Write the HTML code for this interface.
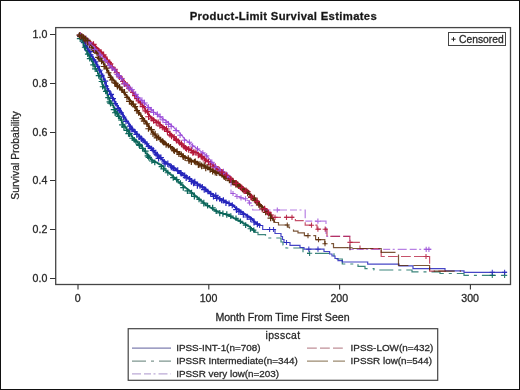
<!DOCTYPE html>
<html><head><meta charset="utf-8"><style>
html,body{margin:0;padding:0;background:#fff;}
#c{position:relative;width:520px;height:390px;overflow:hidden;}
svg{display:block;}
</style></head><body><div id="c">
<svg width="520" height="390" viewBox="0 0 520 390">
<rect x="0" y="0" width="520" height="390" fill="#fff"/>
<rect x="0.5" y="0.5" width="519" height="389" fill="none" stroke="#111" stroke-width="1"/>
<text x="283.4" y="20" text-anchor="middle" font-size="11.3" letter-spacing="0.32" font-weight="bold" font-family="Liberation Sans, Arial, sans-serif" stroke="#333" stroke-width="0.3" fill="#111">Product-Limit Survival Estimates</text>
<rect x="55.7" y="27.6" width="454.8" height="256.9" fill="none" stroke="#454545" stroke-width="1.3"/>
<rect x="448.5" y="32.5" width="57" height="13" fill="none" stroke="#444" stroke-width="1"/>
<path d="M451.4,39.2h4.2M453.5,37.1v4.2" stroke="#222" stroke-width="1"/>
<text x="459" y="42.6" font-size="10.3" font-family="Liberation Sans, Arial, sans-serif" stroke="#333" stroke-width="0.3" fill="#222">Censored</text>
<line x1="50" y1="34.5" x2="55.5" y2="34.5" stroke="#333" stroke-width="1"/>
<text x="47.3" y="38.3" text-anchor="end" font-size="10.6" font-family="Liberation Sans, Arial, sans-serif" stroke="#333" stroke-width="0.3" fill="#222">1.0</text>
<line x1="50" y1="83.5" x2="55.5" y2="83.5" stroke="#333" stroke-width="1"/>
<text x="47.3" y="87.3" text-anchor="end" font-size="10.6" font-family="Liberation Sans, Arial, sans-serif" stroke="#333" stroke-width="0.3" fill="#222">0.8</text>
<line x1="50" y1="132.5" x2="55.5" y2="132.5" stroke="#333" stroke-width="1"/>
<text x="47.3" y="136.3" text-anchor="end" font-size="10.6" font-family="Liberation Sans, Arial, sans-serif" stroke="#333" stroke-width="0.3" fill="#222">0.6</text>
<line x1="50" y1="180.5" x2="55.5" y2="180.5" stroke="#333" stroke-width="1"/>
<text x="47.3" y="184.3" text-anchor="end" font-size="10.6" font-family="Liberation Sans, Arial, sans-serif" stroke="#333" stroke-width="0.3" fill="#222">0.4</text>
<line x1="50" y1="229.5" x2="55.5" y2="229.5" stroke="#333" stroke-width="1"/>
<text x="47.3" y="233.3" text-anchor="end" font-size="10.6" font-family="Liberation Sans, Arial, sans-serif" stroke="#333" stroke-width="0.3" fill="#222">0.2</text>
<line x1="50" y1="278.5" x2="55.5" y2="278.5" stroke="#333" stroke-width="1"/>
<text x="47.3" y="282.3" text-anchor="end" font-size="10.6" font-family="Liberation Sans, Arial, sans-serif" stroke="#333" stroke-width="0.3" fill="#222">0.0</text>
<line x1="78.0" y1="284.5" x2="78.0" y2="289.5" stroke="#333" stroke-width="1.1"/>
<text x="77.7" y="302.4" text-anchor="middle" font-size="10.6" font-family="Liberation Sans, Arial, sans-serif" stroke="#333" stroke-width="0.3" fill="#222">0</text>
<line x1="208.8" y1="284.5" x2="208.8" y2="289.5" stroke="#333" stroke-width="1.1"/>
<text x="208.5" y="302.4" text-anchor="middle" font-size="10.6" font-family="Liberation Sans, Arial, sans-serif" stroke="#333" stroke-width="0.3" fill="#222">100</text>
<line x1="339.6" y1="284.5" x2="339.6" y2="289.5" stroke="#333" stroke-width="1.1"/>
<text x="339.3" y="302.4" text-anchor="middle" font-size="10.6" font-family="Liberation Sans, Arial, sans-serif" stroke="#333" stroke-width="0.3" fill="#222">200</text>
<line x1="470.4" y1="284.5" x2="470.4" y2="289.5" stroke="#333" stroke-width="1.1"/>
<text x="470.1" y="302.4" text-anchor="middle" font-size="10.6" font-family="Liberation Sans, Arial, sans-serif" stroke="#333" stroke-width="0.3" fill="#222">300</text>
<text transform="translate(18.9,155.5) rotate(-90)" text-anchor="middle" font-size="10.4" font-family="Liberation Sans, Arial, sans-serif" stroke="#333" stroke-width="0.3" fill="#222">Survival Probability</text>
<text x="282.5" y="321" text-anchor="middle" font-size="10.6" font-family="Liberation Sans, Arial, sans-serif" stroke="#333" stroke-width="0.3" fill="#222">Month From Time First Seen</text>
<path d="M78.50,34.40H79.70V36.10H80.90V37.81H82.10V39.51H83.30V41.22H84.50V43.50H85.70V45.90H86.90V48.30H88.10V50.54H89.30V52.77H90.50V55.00H91.70V56.74H92.90V58.47H94.10V60.21H95.30V62.53H96.50V64.96H97.70V67.39H98.90V69.67H100.10V71.89H101.30V74.11H102.50V76.65H103.70V79.67H104.90V82.68H106.10V85.69H107.30V88.70H108.50V91.20H109.70V93.60H110.90V95.83H112.10V97.83H113.30V99.83H114.50V101.83H115.70V103.83H116.90V105.83H118.10V107.83H119.30V109.83H120.50V111.83H121.70V113.83H122.90V115.83H124.10V117.83H125.30V119.58H126.50V121.29H127.70V123.01H128.90V124.73H130.10V126.45H131.30V128.17H132.50V129.80H133.70V131.00H134.90V132.20H136.10V133.40H137.30V134.60H138.50V135.80H139.70V137.00H140.90V138.20H142.10V139.44H143.30V140.73H144.50V142.02H145.70V143.31H146.90V144.60H148.10V145.89H149.30V147.17H150.50V148.46H151.70V149.70H152.90V150.90H154.10V152.10H155.30V153.30H156.50V154.50H157.70V155.70H158.90V156.86H160.10V158.01H161.30V159.16H162.50V160.31H163.70V161.46H164.90V162.60H166.10V163.36H167.30V164.07H168.50V164.79H169.70V165.51H170.90V166.22H172.10V166.94H173.30V167.78H174.50V168.75H175.70V169.72H176.90V170.68H178.10V171.65H179.30V172.61H180.50V173.56H181.70V174.27H182.90V174.98H184.10V175.69H185.30V176.40H186.50V177.11H187.70V177.82H188.90V178.60H190.10V179.41H191.30V180.22H192.50V181.02H193.70V181.83H194.90V182.63H196.10V183.36H197.30V184.07H198.50V184.79H199.70V185.51H200.90V186.22H202.10V186.94H203.30V187.78H204.50V188.75H205.70V189.72H206.90V190.68H208.10V191.65H209.30V192.61H210.50V193.56H211.70V194.27H212.90V194.98H214.10V195.69H215.30V196.40H216.50V197.11H217.70V197.82H218.90V198.46H220.10V199.08H221.30V199.69H222.50V200.31H223.70V200.92H224.90V201.54H226.10V202.15H227.30V202.73H228.50V203.31H229.70V203.89H230.90V204.47H232.10V205.09H233.30V206.14H234.50V207.19H235.70V208.24H236.90V209.12H238.10V209.94H239.30V210.77H240.50V211.59H241.70V212.42H242.90V213.24H244.10V214.06H245.30V214.84H246.50V215.61H247.70V216.38H248.90V217.15H250.10V217.92H251.30V218.84H252.50V220.19H253.70V221.54H254.90V222.89H256.10V223.55H257.30V224.15H258.50V224.75H259.70V225.35H260.00V225.50" fill="none" stroke="#2626bc" stroke-width="1.6"/>
<path d="M77.13,36.33h6.24M80.25,33.21v6.24M79.41,39.02h5.29M82.05,36.38v5.29M80.81,42.55h5.31M83.46,39.90v5.31M82.83,46.63h5.40M85.53,43.93v5.40M84.47,50.32h6.12M87.53,47.25v6.12M86.69,51.60h6.57M89.97,48.32v6.57M87.77,54.89h5.69M90.61,52.05v5.69M90.10,59.78h6.22M93.21,56.67v6.22M93.00,61.95h5.30M95.64,59.30v5.30M94.67,66.32h5.70M97.52,63.47v5.70M96.18,70.23h6.47M99.42,66.99v6.47M98.48,75.34h6.04M101.50,72.32v6.04M101.43,81.09h6.77M104.81,77.71v6.77M103.22,86.24h5.44M105.94,83.52v5.44M104.28,90.91h6.42M107.49,87.70v6.42M107.71,94.40h6.31M110.87,91.24v6.31M109.41,98.51h6.54M112.68,95.23v6.54M112.61,103.58h5.30M115.26,100.94v5.30M114.63,108.41h6.52M117.88,105.15v6.52M116.70,110.56h5.24M119.32,107.95v5.24M118.41,112.54h5.29M121.06,109.89v5.29M120.57,117.01h5.83M123.48,114.09v5.83M122.99,121.33h6.08M126.03,118.29v6.08M126.88,126.18h5.65M129.70,123.36v5.65M127.67,129.07h6.73M131.04,125.71v6.73M129.61,129.45h5.57M132.39,126.66v5.57M132.45,131.61h5.21M135.05,129.01v5.21M133.37,134.38h6.72M136.73,131.02v6.72M136.16,136.88h6.28M139.30,133.74v6.28M138.01,138.78h6.60M141.31,135.48v6.60M140.44,140.44h5.37M143.12,137.76v5.37M142.18,142.03h5.53M144.95,139.27v5.53M144.36,143.74h5.20M146.96,141.14v5.20M145.62,146.28h5.24M148.24,143.66v5.24M148.78,148.51h5.60M151.58,145.71v5.60M149.84,150.33h6.56M153.12,147.05v6.56M153.38,154.06h5.34M156.05,151.39v5.34M154.16,155.03h6.53M157.42,151.77v6.53M155.58,158.39h6.05M158.60,155.36v6.05M157.91,157.52h6.04M160.93,154.50v6.04M161.34,161.91h5.62M164.15,159.10v5.62M162.06,163.74h6.05M165.09,160.71v6.05M164.56,163.80h6.50M167.81,160.55v6.50M168.07,166.98h6.51M171.32,163.72v6.51M170.00,167.80h5.77M172.88,164.91v5.77M171.23,168.34h5.61M174.04,165.53v5.61M174.36,170.68h6.70M177.71,167.33v6.70M177.72,172.71h5.55M180.49,169.93v5.55M178.05,173.43h6.20M181.15,170.33v6.20M181.59,175.72h6.24M184.71,172.59v6.24M182.84,177.68h6.66M186.17,174.35v6.66M186.86,178.78h5.49M189.60,176.04v5.49M188.14,181.30h6.75M191.52,177.92v6.75M190.39,182.99h6.36M193.57,179.81v6.36M191.50,182.00h6.65M194.82,178.68v6.65M193.99,185.27h6.77M197.38,181.88v6.77M197.28,185.93h5.41M199.99,183.22v5.41M199.25,187.04h6.04M202.27,184.02v6.04M200.97,189.57h6.52M204.23,186.31v6.52M202.88,189.43h5.58M205.67,186.64v5.58M205.20,191.55h5.41M207.90,188.84v5.41M207.64,193.69h6.13M210.71,190.63v6.13M210.47,196.47h6.00M213.47,193.47v6.00M212.80,195.40h5.90M215.76,192.45v5.90M213.95,198.41h5.48M216.68,195.67v5.48M216.90,198.89h5.72M219.76,196.03v5.72M218.96,200.57h5.37M221.65,197.88v5.37M220.18,200.37h6.44M223.40,197.15v6.44M222.62,202.71h6.66M225.95,199.38v6.66M226.01,203.50h6.02M229.02,200.49v6.02M229.26,205.36h5.96M232.24,202.37v5.96M233.13,209.62h6.71M236.48,206.26v6.71M235.68,211.63h6.54M238.95,208.35v6.54M238.13,212.00h5.32M240.79,209.35v5.32M240.12,214.41h6.45M243.35,211.18v6.45M244.15,216.98h6.26M247.28,213.85v6.26M247.98,219.22h5.55M250.76,216.44v5.55M250.60,221.99h6.78M253.99,218.60v6.78M254.35,224.24h6.02M257.36,221.23v6.02" fill="none" stroke="#2626bc" stroke-width="1.2"/>
<path d="M78.50,34.40H79.70V35.09H80.90V35.79H82.10V36.48H83.30V37.21H84.50V38.05H85.70V38.89H86.90V39.73H88.10V40.58H89.30V41.54H90.50V42.50H91.70V43.46H92.90V44.42H94.10V45.49H95.30V46.57H96.50V47.65H97.70V48.73H98.90V50.01H100.10V51.36H101.30V52.71H102.50V54.13H103.70V55.63H104.90V57.13H106.10V58.65H107.30V60.45H108.50V62.25H109.70V64.05H110.90V65.58H112.10V67.02H113.30V68.46H114.50V69.90H115.70V71.34H116.90V72.78H118.10V74.22H119.30V75.66H120.50V77.13H121.70V78.63H122.90V80.13H124.10V81.63H125.30V83.13H126.50V84.63H127.70V86.13H128.90V87.72H130.10V89.35H131.30V90.98H132.50V92.61H133.70V94.24H134.90V95.86H136.10V97.49H137.30V99.12H138.50V100.75H139.70V102.38H140.90V104.01H142.10V105.64H143.30V107.37H144.50V109.09H145.70V110.82H146.90V112.54H148.10V114.27H149.30V115.99H150.50V117.37H151.70V118.27H152.90V119.17H154.10V120.07H155.30V120.97H156.50V121.87H157.70V122.77H158.90V123.67H160.10V124.65H161.30V125.72H162.50V126.80H163.70V127.87H164.90V128.95H166.10V130.02H167.30V131.20H168.50V132.40H169.70V133.60H170.90V134.80H172.10V136.00H173.30V137.20H174.50V138.40H175.70V139.60H176.90V140.80H178.10V141.99H179.30V143.14H180.50V144.25H181.70V144.90H182.90V145.55H184.10V146.20H185.30V146.85H186.50V147.50H187.70V148.31H188.90V149.11H190.10V149.92H191.30V150.73H192.50V151.39H193.70V151.85H194.90V152.31H196.10V152.77H197.30V153.23H198.50V153.93H199.70V154.95H200.90V155.97H202.10V156.99H203.30V157.97H204.50V158.90H205.70V159.84H206.90V160.77H208.10V161.71H209.30V162.64H210.50V163.59H211.70V164.66H212.90V165.74H214.10V166.81H215.30V167.88H216.50V168.96H217.70V170.03H218.90V170.96H220.10V171.83H221.30V172.71H222.50V173.59H223.70V174.47H224.90V175.34H226.10V176.23H227.30V177.15H228.50V178.08H229.70V179.00H230.90V179.92H232.10V180.77H233.30V181.61H234.50V182.45H235.70V183.29H236.90V184.18H238.10V185.09H239.30V185.99H240.50V186.90H241.70V187.81H242.90V188.71H244.10V189.62H245.30V190.60H246.50V191.80H247.70V193.00H248.90V194.20H250.10V195.40H251.30V196.60H252.50V197.80H253.70V199.00H254.90V200.20H256.10V201.40H257.30V202.60H258.50V203.80H259.70V205.00H260.90V206.20H262.10V207.40H263.30V208.60H264.50V209.80H265.70V211.00H266.90V212.14H268.10V213.17H269.30V214.19H270.50V215.22H271.70V216.24H272.00V216.50" fill="none" stroke="#b3183a" stroke-width="1.4"/>
<path d="M76.90,35.08h6.36M80.07,31.91v6.36M79.39,36.23h5.23M82.00,33.61v5.23M81.31,37.59h5.30M83.96,34.93v5.30M84.29,40.73h5.37M86.97,38.04v5.37M84.88,41.50h5.63M87.70,38.68v5.63M86.56,43.11h6.51M89.81,39.85v6.51M88.14,44.54h6.11M91.19,41.48v6.11M90.34,44.31h6.30M93.49,41.16v6.30M92.36,48.40h6.22M95.46,45.29v6.22M95.35,50.58h5.31M98.00,47.93v5.31M98.08,52.17h6.08M101.13,49.13v6.08M100.54,54.90h6.04M103.56,51.88v6.04M102.44,57.15h5.28M105.08,54.51v5.28M103.83,59.95h6.42M107.04,56.74v6.42M106.23,62.33h5.76M109.11,59.45v5.76M107.00,63.88h6.37M110.19,60.70v6.37M108.93,67.68h6.70M112.27,64.34v6.70M111.71,69.43h5.99M114.70,66.44v5.99M113.53,72.71h6.30M116.68,69.56v6.30M116.22,76.89h6.33M119.38,73.72v6.33M119.11,78.47h5.29M121.76,75.82v5.29M120.07,81.47h5.61M122.87,78.66v5.61M121.22,83.76h6.59M124.52,80.47v6.59M124.30,85.13h5.67M127.14,82.30v5.67M126.19,88.37h5.62M129.00,85.56v5.62M130.10,92.36h5.59M132.89,89.57v5.59M132.11,95.60h5.20M134.72,93.00v5.20M134.12,98.61h5.52M136.88,95.85v5.52M135.66,100.85h5.34M138.33,98.17v5.34M137.50,102.88h5.69M140.34,100.03v5.69M139.63,106.59h6.40M142.83,103.39v6.40M142.42,110.84h5.82M145.33,107.93v5.82M144.38,111.61h6.36M147.56,108.43v6.36M145.23,116.70h6.63M148.55,113.39v6.63M149.08,118.91h5.42M151.79,116.20v5.42M150.36,120.57h6.49M153.60,117.33v6.49M153.13,122.64h6.29M156.27,119.49v6.29M155.44,122.17h5.41M158.15,119.47v5.41M156.83,125.82h6.09M159.88,122.77v6.09M159.89,127.45h5.98M162.89,124.46v5.98M161.53,128.89h6.00M164.53,125.89v6.00M163.30,129.04h6.38M166.49,125.85v6.38M164.24,131.31h6.37M167.42,128.12v6.37M167.04,134.84h5.99M170.04,131.85v5.99M168.40,136.02h6.43M171.61,132.80v6.43M171.38,136.70h5.44M174.10,133.99v5.44M172.94,139.05h6.11M176.00,136.00v6.11M173.32,140.37h6.28M176.46,137.24v6.28M176.68,142.74h6.03M179.69,139.72v6.03M178.13,143.80h6.63M181.45,140.49v6.63M181.23,146.84h5.23M183.84,144.22v5.23M182.70,148.02h5.92M185.66,145.06v5.92M183.82,148.99h5.54M186.59,146.22v5.54M185.34,149.38h6.72M188.71,146.02v6.72M187.93,150.41h6.62M191.24,147.10v6.62M189.81,152.69h5.98M192.80,149.70v5.98M190.96,152.18h5.92M193.92,149.22v5.92M193.08,152.49h5.71M195.93,149.64v5.71M195.04,155.01h6.54M198.31,151.74v6.54M197.85,156.25h6.64M201.18,152.93v6.64M198.81,156.95h6.80M202.21,153.55v6.80M201.59,158.80h5.64M204.41,155.98v5.64M202.69,161.00h5.66M205.52,158.17v5.66M205.43,161.63h6.02M208.44,158.63v6.02M206.97,164.73h6.61M210.28,161.43v6.61M209.82,166.89h6.71M213.17,163.54v6.71M212.28,166.59h6.37M215.47,163.40v6.37M214.71,169.95h5.66M217.54,167.12v5.66M216.28,169.81h5.96M219.26,166.83v5.96M216.88,172.78h6.76M220.26,169.40v6.76M219.48,172.93h6.09M222.52,169.88v6.09M221.02,173.99h5.53M223.79,171.23v5.53M223.60,176.14h6.65M226.92,172.81v6.65M226.90,178.08h5.51M229.65,175.32v5.51M228.23,179.11h5.58M231.02,176.32v5.58M229.91,182.41h6.40M233.11,179.21v6.40M231.96,182.85h5.80M234.87,179.95v5.80M232.87,183.57h6.75M236.25,180.20v6.75M235.15,185.68h6.58M238.44,182.39v6.58M236.90,185.97h5.84M239.82,183.05v5.84M240.14,189.55h6.60M243.44,186.25v6.60M240.87,190.72h6.63M244.18,187.41v6.63M244.76,191.55h5.83M247.67,188.64v5.83M248.02,197.16h6.76M251.40,193.79v6.76M249.75,197.71h6.04M252.76,194.70v6.04M253.84,202.21h6.24M256.95,199.09v6.24M256.79,204.92h5.26M259.42,202.28v5.26M259.17,209.05h6.23M262.28,205.93v6.23M261.48,209.77h6.22M264.59,206.66v6.22M264.60,212.10h6.04M267.62,209.08v6.04M267.80,214.96h6.16M270.88,211.87v6.16" fill="none" stroke="#b3183a" stroke-width="1.15"/>
<path d="M78.50,34.40H79.70V37.01H80.90V39.61H82.10V42.25H83.30V45.25H84.50V48.25H85.70V50.80H86.90V53.20H88.10V55.49H89.30V57.43H90.50V59.37H91.70V61.53H92.90V64.00H94.10V66.47H95.30V68.92H96.50V71.35H97.70V73.78H98.90V76.35H100.10V79.21H101.30V82.06H102.50V84.92H103.70V87.77H104.90V90.48H106.10V93.04H107.30V95.60H108.50V98.16H109.70V100.72H110.90V103.08H112.10V105.25H113.30V107.42H114.50V109.59H115.70V111.76H116.90V113.92H118.10V116.07H119.30V118.23H120.50V120.39H121.70V122.54H122.90V124.52H124.10V126.24H125.30V127.97H126.50V129.69H127.70V131.42H128.90V133.14H130.10V134.77H131.30V136.40H132.50V138.04H133.70V139.58H134.90V140.69H136.10V141.80H137.30V142.91H138.50V144.02H139.70V145.12H140.90V146.62H142.10V148.26H143.30V149.89H144.50V151.52H145.70V153.15H146.90V154.78H148.10V156.42H149.30V158.05H150.50V159.29H151.70V160.00H152.90V160.70H154.10V161.40H155.30V162.11H156.50V162.81H157.70V163.51H158.90V164.21H160.10V164.92H161.30V165.62H162.50V166.32H163.70V168.10H164.90V170.22H166.10V171.27H167.30V172.22H168.50V173.17H169.70V174.12H170.90V175.07H172.10V176.02H173.30V177.11H174.50V178.33H175.70V179.55H176.90V180.77H178.10V181.99H179.30V183.10H180.50V184.05H181.70V185.00H182.90V185.95H184.10V186.91H185.30V187.86H186.50V188.81H187.70V189.76H188.90V190.74H190.10V191.78H191.30V192.81H192.50V193.85H193.70V194.88H194.90V195.91H196.10V196.93H197.30V197.95H198.50V198.97H199.70V199.99H200.90V201.01H202.10V202.03H203.30V203.05H204.50V204.07H205.70V204.93H206.90V205.66H208.10V206.39H209.30V207.12H210.50V207.85H211.70V208.58H212.90V209.31H214.10V210.04H215.30V210.77H216.50V211.50H217.70V211.92H218.90V212.33H220.10V212.75H221.30V213.17H222.50V213.59H223.70V214.00H224.90V214.42H226.10V214.84H227.30V215.26H228.50V215.75H229.70V216.35H230.90V216.95H232.10V217.55H233.30V218.15H234.50V218.75H235.70V219.35H236.90V219.95H238.10V220.55H239.30V221.15H240.50V221.79H241.70V222.48H242.90V223.18H244.10V223.87H245.30V224.57H246.50V225.26H247.70V225.96H248.90V226.65H250.10V227.58H251.30V228.73H252.50V229.89H253.70V231.05H254.90V232.20H255.00V232.30" fill="none" stroke="#0b665a" stroke-width="1.4"/>
<path d="M76.85,38.64h6.73M80.22,35.27v6.73M81.88,47.26h5.58M84.67,44.48v5.58M84.93,54.19h5.69M87.77,51.34v5.69M86.82,58.63h5.87M89.76,55.69v5.87M90.23,64.84h5.56M93.01,62.06v5.56M92.05,68.97h6.29M95.20,65.82v6.29M95.76,75.71h6.01M98.76,72.70v6.01M98.67,81.51h6.51M101.93,78.25v6.51M99.77,86.77h5.67M102.61,83.94v5.67M102.94,91.44h5.56M105.72,88.66v5.56M105.23,97.65h5.43M107.94,94.93v5.43M106.55,101.87h5.43M109.26,99.16v5.43M107.20,103.23h6.64M110.52,99.91v6.64M110.75,109.57h6.69M114.10,106.22v6.69M112.00,112.77h6.39M115.19,109.57v6.39M114.41,113.92h5.80M117.31,111.02v5.80M115.66,116.30h5.65M118.48,113.47v5.65M118.10,120.01h6.74M121.47,116.64v6.74M119.07,124.82h6.52M122.32,121.56v6.52M121.00,126.79h5.80M123.90,123.90v5.80M123.47,130.37h6.64M126.79,127.06v6.64M125.32,133.61h6.43M128.54,130.40v6.43M126.13,133.66h6.67M129.47,130.32v6.67M129.35,138.23h5.74M132.22,135.36v5.74M131.49,139.85h5.62M134.30,137.04v5.62M133.20,141.18h5.21M135.80,138.58v5.21M135.75,144.38h6.71M139.10,141.03v6.71M136.22,145.29h6.73M139.58,141.93v6.73M139.59,148.41h5.89M142.53,145.47v5.89M142.14,151.08h6.48M145.38,147.83v6.48M144.58,155.92h6.17M147.67,152.83v6.17M145.59,157.38h6.45M148.82,154.15v6.45M149.05,160.99h5.60M151.85,158.19v5.60M151.92,162.32h5.72M154.78,159.46v5.72M158.61,166.64h5.62M161.42,163.83v5.62M160.36,168.79h6.34M163.53,165.62v6.34M164.74,172.73h6.19M167.84,169.63v6.19M170.11,177.60h6.26M173.24,174.47v6.26M173.62,179.52h6.11M176.68,176.47v6.11M177.67,182.97h5.60M180.46,180.18v5.60M180.20,187.62h6.13M183.26,184.56v6.13M184.41,190.93h6.01M187.41,187.93v6.01M188.18,193.07h6.79M191.57,189.68v6.79M191.09,196.31h6.54M194.36,193.04v6.54M196.34,199.44h5.39M199.04,196.75v5.39M200.47,203.15h6.69M203.82,199.80v6.69M204.79,205.64h5.62M207.60,202.83v5.62M209.58,207.75h6.15M212.65,204.68v6.15M213.47,211.19h5.43M216.18,208.47v5.43M216.62,213.01h6.24M219.75,209.89v6.24M219.77,213.52h6.29M222.91,210.38v6.29M223.56,214.40h6.47M226.80,211.17v6.47M227.90,216.18h5.83M230.82,213.26v5.83M233.27,218.34h5.46M236.00,215.61v5.46M237.57,221.25h5.69M240.42,218.41v5.69M242.78,225.10h5.77M245.66,222.22v5.77M247.59,228.74h5.78M250.48,225.85v5.78M251.18,230.05h5.21M253.78,227.44v5.21" fill="none" stroke="#0b665a" stroke-width="1.2"/>
<path d="M78.50,34.40H79.70V35.29H80.90V36.19H82.10V37.08H83.30V37.98H84.50V39.00H85.70V40.20H86.90V41.40H88.10V42.60H89.30V43.80H90.50V45.20H91.70V46.88H92.90V48.56H94.10V50.24H95.30V51.92H96.50V53.62H97.70V55.32H98.90V57.01H100.10V58.76H101.30V60.59H102.50V62.43H103.70V64.37H104.90V66.65H106.10V68.93H107.30V71.22H108.50V73.50H109.70V75.68H110.90V77.34H112.10V79.01H113.30V80.67H114.50V82.34H115.70V84.00H116.90V85.35H118.10V86.71H119.30V88.06H120.50V89.42H121.70V90.77H122.90V92.13H124.10V93.48H125.30V94.89H126.50V96.45H127.70V98.01H128.90V99.57H130.10V101.14H131.30V102.80H132.50V104.46H133.70V106.12H134.90V107.78H136.10V109.45H137.30V111.11H138.50V112.77H139.70V114.42H140.90V116.08H142.10V117.74H143.30V119.40H144.50V121.06H145.70V122.76H146.90V124.45H148.10V126.15H149.30V127.85H150.50V129.55H151.70V131.25H152.90V132.94H154.10V134.58H155.30V135.58H156.50V136.58H157.70V137.58H158.90V138.58H160.10V139.58H161.30V140.58H162.50V141.58H163.70V142.50H164.90V143.36H166.10V144.21H167.30V145.07H168.50V145.93H169.70V146.79H170.90V147.63H172.10V148.47H173.30V149.31H174.50V150.15H175.70V150.98H176.90V151.80H178.10V152.61H179.30V153.43H180.50V154.25H181.70V155.07H182.90V155.89H184.10V156.70H185.30V157.52H186.50V158.24H187.70V158.82H188.90V159.40H190.10V159.98H191.30V160.56H192.50V161.14H193.70V161.72H194.90V162.30H196.10V162.88H197.30V163.46H198.50V164.01H199.70V164.53H200.90V165.04H202.10V165.56H203.30V166.07H204.50V166.59H205.70V167.10H206.90V167.61H208.10V168.13H209.30V168.73H210.50V169.37H211.70V170.01H212.90V170.65H214.10V171.29H215.30V171.93H216.50V172.56H217.70V173.19H218.90V173.82H220.10V174.45H221.30V175.08H222.50V175.71H223.70V176.34H224.90V177.05H226.10V177.79H227.30V178.52H228.50V179.26H229.70V180.00H230.90V180.73H232.10V181.47H233.30V182.20H234.50V182.94H235.70V183.77H236.90V184.61H238.10V185.46H239.30V186.30H240.50V187.14H241.70V187.98H242.90V188.83H244.10V189.67H245.30V190.60H246.50V191.80H247.70V193.00H248.90V194.20H250.10V195.40H251.30V196.60H252.50V197.80H253.70V199.00H254.90V200.20H256.10V201.40H257.30V202.60H258.50V203.80H259.70V205.00H260.90V206.20H262.10V207.40H263.30V208.60H264.50V209.80H265.70V211.00H266.90V212.26H268.10V213.65H269.30V215.04H270.50V216.42H271.70V218.13H272.90V220.07H274.10V222.01H274.40V222.50" fill="none" stroke="#5a2c08" stroke-width="1.6"/>
<path d="M77.47,36.72h5.85M80.39,33.80v5.85M80.47,36.98h5.22M83.08,34.37v5.22M82.83,40.87h5.34M85.51,38.20v5.34M84.68,42.09h5.43M87.40,39.37v5.43M86.72,44.98h5.37M89.41,42.30v5.37M89.13,47.76h5.52M91.89,45.00v5.52M90.67,49.99h5.97M93.66,47.01v5.97M91.79,50.53h6.65M95.11,47.21v6.65M94.01,53.14h6.46M97.24,49.91v6.46M95.10,57.34h6.53M98.36,54.07v6.53M96.74,58.58h6.03M99.76,55.56v6.03M98.38,61.14h6.36M101.56,57.96v6.36M100.89,66.52h6.41M104.10,63.31v6.41M103.59,68.12h6.16M106.67,65.04v6.16M105.61,72.74h5.87M108.54,69.81v5.87M107.52,77.31h5.91M110.48,74.36v5.91M108.94,80.00h5.98M111.93,77.01v5.98M111.73,82.82h5.93M114.69,79.85v5.93M113.24,83.29h5.41M115.94,80.59v5.41M114.40,86.42h6.02M117.41,83.41v6.02M116.44,87.13h6.37M119.63,83.95v6.37M118.94,89.87h6.01M121.94,86.87v6.01M121.20,92.26h6.57M124.49,88.98v6.57M124.22,97.46h5.51M126.97,94.71v5.51M126.08,101.44h6.67M129.41,98.10v6.67M128.81,103.58h5.30M131.46,100.93v5.30M129.99,104.19h6.63M133.30,100.87v6.63M132.17,106.62h6.00M135.17,103.62v6.00M134.01,110.65h6.01M137.01,107.65v6.01M135.89,113.00h5.46M138.62,110.27v5.46M139.49,118.60h5.47M142.23,115.87v5.47M140.83,121.11h6.22M143.94,118.00v6.22M143.84,123.86h6.13M146.90,120.80v6.13M145.36,128.73h6.21M148.46,125.62v6.21M147.99,129.60h6.78M151.38,126.20v6.78M150.03,134.02h5.91M152.98,131.07v5.91M151.91,134.01h6.51M155.16,130.75v6.51M153.70,137.91h6.14M156.77,134.84v6.14M156.02,137.29h5.25M158.64,134.67v5.25M157.67,139.75h6.02M160.68,136.74v6.02M159.53,141.41h6.24M162.65,138.29v6.24M161.22,142.77h5.37M163.90,140.08v5.37M163.04,144.72h6.14M166.11,141.65v6.14M165.65,145.64h5.42M168.36,142.93v5.42M167.86,146.72h5.35M170.54,144.04v5.35M170.79,149.97h5.84M173.71,147.05v5.84M171.23,150.85h6.10M174.28,147.80v6.10M173.71,151.62h6.70M177.06,148.27v6.70M176.29,154.47h5.27M178.93,151.83v5.27M178.64,154.20h5.29M181.29,151.55v5.29M179.88,156.71h6.71M183.23,153.36v6.71M182.09,157.95h6.01M185.09,154.94v6.01M185.40,158.03h5.70M188.25,155.18v5.70M185.77,160.77h6.45M189.00,157.54v6.45M188.15,161.81h6.39M191.34,158.62v6.39M191.64,161.78h5.56M194.42,159.00v5.56M192.39,161.46h5.74M195.26,158.59v5.74M195.18,164.73h6.34M198.35,161.56v6.34M196.70,164.43h6.46M199.93,161.20v6.46M198.28,165.88h6.74M201.66,162.51v6.74M201.41,164.98h5.62M204.22,162.17v5.62M202.56,168.14h6.39M205.76,164.94v6.39M205.02,167.33h5.58M207.81,164.54v5.58M207.00,169.57h6.26M210.13,166.44v6.26M209.52,171.43h6.32M212.68,168.28v6.32M212.18,172.52h6.11M215.23,169.46v6.11M214.08,173.22h5.32M216.75,170.56v5.32M216.64,173.08h5.37M219.33,170.39v5.37M219.69,174.79h5.25M222.31,172.17v5.25M221.10,176.84h6.32M224.25,173.68v6.32M222.92,178.22h5.78M225.81,175.33v5.78M226.75,180.56h5.31M229.41,177.91v5.31M229.47,182.30h5.37M232.16,179.61v5.37M229.44,180.97h6.56M232.72,177.69v6.56M232.88,184.69h6.21M235.99,181.58v6.21M234.46,184.50h6.41M237.67,181.30v6.41M237.67,186.97h5.23M240.29,184.35v5.23M239.72,189.40h5.79M242.62,186.51v5.79M242.77,190.71h6.56M246.05,187.43v6.56M244.73,193.41h5.90M247.68,190.46v5.90M248.25,197.32h6.06M251.28,194.29v6.06M251.07,198.05h6.51M254.32,194.80v6.51M252.16,200.60h6.42M255.37,197.39v6.42M255.85,204.82h5.99M258.85,201.82v5.99M259.41,208.02h5.76M262.29,205.14v5.76M262.82,212.44h5.65M265.65,209.61v5.65M265.90,213.88h5.38M268.58,211.19v5.38M267.51,218.17h6.32M270.67,215.01v6.32" fill="none" stroke="#5a2c08" stroke-width="1.2"/>
<path d="M78.50,34.40H79.70V35.36H80.90V36.32H82.10V37.28H83.30V38.24H84.50V39.20H85.70V40.16H86.90V41.12H88.10V42.09H89.30V43.17H90.50V44.25H91.70V45.33H92.90V46.41H94.10V47.71H95.30V49.03H96.50V50.35H97.70V51.67H98.90V53.13H100.10V54.63H101.30V56.13H102.50V57.56H103.70V58.91H104.90V60.26H106.10V61.61H107.30V62.96H108.50V64.31H109.70V65.66H110.90V66.98H112.10V68.28H113.30V69.58H114.50V70.88H115.70V72.18H116.90V73.63H118.10V75.13H119.30V76.63H120.50V78.13H121.70V79.63H122.90V80.97H124.10V82.27H125.30V83.56H126.50V84.86H127.70V86.15H128.90V87.45H130.10V88.74H131.30V90.02H132.50V91.27H133.70V92.53H134.90V93.78H136.10V95.03H137.30V96.28H138.50V97.53H139.70V98.79H140.90V100.04H142.10V101.29H143.30V102.46H144.50V103.62H145.70V104.78H146.90V105.93H148.10V107.09H149.30V108.24H150.50V109.40H151.70V110.56H152.90V111.71H154.10V112.67H155.30V113.55H156.50V114.44H157.70V115.33H158.90V116.22H160.10V117.10H161.30V117.99H162.50V118.88H163.70V119.68H164.90V120.45H166.10V121.22H167.30V122.08H168.50V123.20H169.70V124.32H170.90V125.44H172.10V126.56H173.30V127.69H174.50V128.81H175.70V129.83H176.90V130.84H178.10V131.86H179.30V132.95H180.50V134.48H181.70V136.01H182.90V137.54H184.10V139.07H185.30V140.06H186.50V140.99H187.70V141.93H188.90V142.87H190.10V143.80H191.30V144.74H192.50V145.67H193.70V146.61H194.90V147.51H196.10V148.38H197.30V149.24H198.50V150.11H199.70V150.98H200.90V151.85H202.10V152.72H203.30V153.59H204.50V154.46H205.70V155.33H206.90V156.74H208.10V158.20H209.30V159.66H210.50V161.10H211.70V162.28H212.90V163.47H214.10V164.65H215.30V165.84H216.50V167.02H217.70V168.20H218.90V169.25H220.10V170.25H221.30V171.25H222.50V172.25H223.70V173.25H224.90V174.25H226.10V175.25H227.30V176.25H228.50V177.25H229.70V178.25H230.00V178.50" fill="none" stroke="#9a4cd8" stroke-width="1.0"/>
<path d="M77.76,35.62h5.84M80.68,32.70v5.84M82.72,38.91h6.62M86.03,35.60v6.62M85.82,42.78h6.64M89.14,39.46v6.64M91.85,49.48h5.57M94.63,46.69v5.57M96.80,55.10h6.40M100.00,51.90v6.40M102.63,60.57h5.45M105.36,57.84v5.45M106.41,65.41h5.47M109.15,62.68v5.47M109.30,67.96h5.40M112.00,65.26v5.40M112.15,70.04h5.51M114.90,67.29v5.51M114.40,74.45h5.45M117.13,71.72v5.45M115.72,75.91h6.04M118.74,72.90v6.04M117.73,78.38h6.76M121.11,75.00v6.76M121.28,83.92h5.36M123.96,81.24v5.36M124.62,86.31h6.37M127.81,83.12v6.37M126.72,88.81h5.37M129.40,86.12v5.37M129.08,89.70h5.84M132.00,86.79v5.84M132.59,94.32h6.21M135.69,91.22v6.21M134.74,97.45h5.85M137.66,94.53v5.85M138.86,100.33h6.12M141.92,97.27v6.12M141.26,102.96h6.36M144.44,99.78v6.36M145.06,107.47h6.56M148.34,104.19v6.56M148.39,109.80h5.70M151.24,106.95v5.70M150.26,112.42h6.45M153.49,109.19v6.45M154.43,114.30h5.88M157.37,111.36v5.88M156.95,116.73h6.28M160.09,113.59v6.28M159.74,119.89h6.45M162.96,116.67v6.45M163.38,122.41h5.26M166.01,119.78v5.26M165.07,124.31h6.70M168.42,120.95v6.70M168.14,126.41h6.07M171.17,123.38v6.07M172.92,130.58h6.53M176.18,127.32v6.53M177.31,135.27h5.54M180.08,132.51v5.54M181.73,140.18h5.40M184.42,137.48v5.40M186.52,142.22h5.64M189.34,139.40v5.64M189.73,146.12h5.87M192.66,143.18v5.87M194.75,148.95h5.56M197.53,146.17v5.56M200.06,152.88h5.55M202.84,150.10v5.55M203.97,155.90h5.41M206.67,153.20v5.41M208.84,162.32h5.95M211.81,159.34v5.95M212.24,167.24h5.77M215.12,164.36v5.77M217.25,170.81h5.95M220.23,167.83v5.95M220.17,172.00h6.53M223.44,168.73v6.53M224.67,175.46h5.80M227.57,172.56v5.80" fill="none" stroke="#9a4cd8" stroke-width="1.0"/>
<path d="M230.00,178.50H231.00V193.50H234.00V195.00H237.00V196.50H240.00V197.80H243.00V198.80H246.00V200.50H249.00V203.00H251.00V205.70H252.70V210.00H305.20V221.20H326.00V236.30H349.80V249.30H431.00V249.30" fill="none" stroke="#9a4cd8" stroke-width="1.2" stroke-opacity="0.7" stroke-dasharray="9,3,7,2.5,2,3"/>
<path d="M255.00,232.30H258.00V234.60H265.50V238.00H281.00V242.00H283.00V245.00H286.00V248.00H303.00V253.30H334.00V256.00H337.00V259.00H342.30V264.00H358.00V266.30H365.00V268.70H374.00V270.00H412.00V271.80H440.00V273.50H464.00V275.40H502.00V275.40" fill="none" stroke="#0b665a" stroke-width="1.2" stroke-opacity="0.8" stroke-dasharray="14,5,3,5"/>
<path d="M260.00,225.50H262.70V229.50H275.00V233.50H281.00V236.50H282.50V239.50H284.00V242.50H290.00V245.40H300.00V247.50H304.00V249.20H324.00V251.50H329.60V254.00H332.00V256.00H335.00V258.50H338.00V260.60H342.30V262.00H367.70V264.20H399.00V265.80H413.00V268.60H445.00V270.80H464.00V272.30H507.00V272.30" fill="none" stroke="#2626bc" stroke-width="1.2" stroke-opacity="0.85"/>
<path d="M272.00,216.50H272.10V217.30H295.40V220.60H305.20V225.20H317.00V229.20H327.00V236.30H349.80V242.40H360.00V248.60H381.20V256.50H429.60V271.20H446.00V271.20" fill="none" stroke="#b3183a" stroke-width="1.2" stroke-opacity="0.75" stroke-dasharray="9.8,3.2"/>
<path d="M274.40,222.50H278.50V225.00H288.00V227.20H289.50V228.80H293.50V231.20H298.00V232.80H304.40V235.60H315.60V239.60H324.80V243.70H333.50V247.70H351.00V248.50H381.20V252.40H398.50V265.50H412.50V265.50H429.60V271.20H461.00V271.20" fill="none" stroke="#5a2c08" stroke-width="1.2" stroke-opacity="0.8" stroke-dasharray="21,5"/>
<path d="M230.40,193.50h5.20M233.00,190.90v5.20M234.40,196.50h5.20M237.00,193.90v5.20M238.40,197.80h5.20M241.00,195.20v5.20M242.90,198.80h5.20M245.50,196.20v5.20M246.90,203.00h5.20M249.50,200.40v5.20M274.70,210.00h5.20M277.30,207.40v5.20M315.30,221.20h5.20M317.90,218.60v5.20M423.60,249.30h5.20M426.20,246.70v5.20M426.30,249.30h5.20M428.90,246.70v5.20" fill="none" stroke="#9a4cd8" stroke-width="1.1" stroke-opacity="0.85"/>
<path d="M307.00,253.30h5.20M309.60,250.70v5.20M489.70,275.40h5.20M492.30,272.80v5.20M502.00,275.40h5.20M504.60,272.80v5.20" fill="none" stroke="#0b665a" stroke-width="1.1" stroke-opacity="0.85"/>
<path d="M257.00,225.50h5.20M259.60,222.90v5.20M267.00,229.50h5.20M269.60,226.90v5.20M270.90,229.50h5.20M273.50,226.90v5.20M283.90,242.50h5.20M286.50,239.90v5.20M306.20,249.20h5.20M308.80,246.60v5.20M315.40,249.20h5.20M318.00,246.60v5.20M489.70,272.30h5.20M492.30,269.70v5.20M502.00,272.30h5.20M504.60,269.70v5.20" fill="none" stroke="#2626bc" stroke-width="1.1" stroke-opacity="0.85"/>
<path d="M272.40,217.30h5.20M275.00,214.70v5.20M283.90,217.30h5.20M286.50,214.70v5.20M289.40,217.30h5.20M292.00,214.70v5.20M308.90,225.20h5.20M311.50,222.60v5.20M315.30,229.20h5.20M317.90,226.60v5.20M322.60,229.20h5.20M325.20,226.60v5.20M347.40,242.40h5.20M350.00,239.80v5.20M423.40,256.50h5.20M426.00,253.90v5.20" fill="none" stroke="#b3183a" stroke-width="1.1" stroke-opacity="0.85"/>
<path d="M284.70,225.00h5.20M287.30,222.40v5.20M305.40,235.60h5.20M308.00,233.00v5.20M315.90,239.60h5.20M318.50,237.00v5.20M347.40,247.70h5.20M350.00,245.10v5.20M322.40,243.70h5.20M325.00,241.10v5.20" fill="none" stroke="#5a2c08" stroke-width="1.1" stroke-opacity="0.85"/>
<path d="M76.50,35.20h6.00M79.50,32.20v6.00M78.50,36.20h6.00M81.50,33.20v6.00M80.50,37.60h6.00M83.50,34.60v6.00M82.50,38.80h6.00M85.50,35.80v6.00M84.50,40.50h6.00M87.50,37.50v6.00" fill="none" stroke="#5a2c08" stroke-width="1.3"/>
<path d="M218.93,172.09h6.00M221.93,169.09v6.00M223.23,175.22h6.00M226.23,172.22v6.00M227.54,179.26h6.00M230.54,176.26v6.00M233.17,183.34h6.00M236.17,180.34v6.00M238.54,187.57h6.00M241.54,184.57v6.00M242.61,190.90h6.00M245.61,187.90v6.00M248.28,197.10h6.00M251.28,194.10v6.00M254.05,201.36h6.00M257.05,198.36v6.00M261.55,208.69h6.00M264.55,205.69v6.00M265.34,212.65h6.00M268.34,209.65v6.00" fill="none" stroke="#b3183a" stroke-width="1.3"/>
<rect x="128.2" y="328.7" width="309.5" height="51.6" fill="none" stroke="#444" stroke-width="1.2"/>
<text x="283" y="339" text-anchor="middle" font-size="10.4" letter-spacing="0.4" font-family="Liberation Sans, Arial, sans-serif" stroke="#333" stroke-width="0.3" fill="#222">ipsscat</text>
<line x1="132" y1="348.2" x2="171" y2="348.2" stroke="#7f7fb0" stroke-width="1.3"/>
<text x="176.2" y="350.7" font-size="9.9" font-family="Liberation Sans, Arial, sans-serif" stroke="#333" stroke-width="0.3" fill="#222">IPSS-INT-1(n=708)</text>
<line x1="307" y1="348.2" x2="344" y2="348.2" stroke="#c09098" stroke-width="1.3" stroke-dasharray="9.8,3.2"/>
<text x="350.6" y="350.7" font-size="9.9" font-family="Liberation Sans, Arial, sans-serif" stroke="#333" stroke-width="0.3" fill="#222">IPSS-LOW(n=432)</text>
<line x1="132" y1="361.2" x2="171" y2="361.2" stroke="#7f9790" stroke-width="1.3" stroke-dasharray="14,5,3,5"/>
<text x="176.2" y="363.8" font-size="9.9" font-family="Liberation Sans, Arial, sans-serif" stroke="#333" stroke-width="0.3" fill="#222">IPSSR Intermediate(n=344)</text>
<line x1="307" y1="361.2" x2="345" y2="361.2" stroke="#9c8a70" stroke-width="1.3" stroke-dasharray="21,5"/>
<text x="350.6" y="363.8" font-size="9.9" font-family="Liberation Sans, Arial, sans-serif" stroke="#333" stroke-width="0.3" fill="#222">IPSSR low(n=544)</text>
<line x1="132" y1="373.8" x2="171" y2="373.8" stroke="#bcaad6" stroke-width="1.3" stroke-dasharray="9,3,7,2.5,2,3"/>
<text x="176.2" y="376.9" font-size="9.9" font-family="Liberation Sans, Arial, sans-serif" stroke="#333" stroke-width="0.3" fill="#222">IPSSR very low(n=203)</text>
</svg></div></body></html>
